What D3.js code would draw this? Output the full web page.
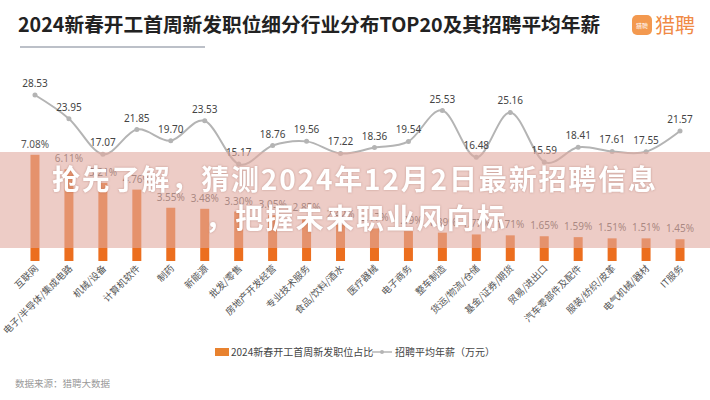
<!DOCTYPE html>
<html><head><meta charset="utf-8">
<script src="https://cdn.jsdelivr.net/npm/d3@7/dist/d3.min.js"></script>
<style>
html,body{margin:0;padding:0;background:#fff;}
svg{display:block;font-family:"Noto Sans CJK SC","Noto Sans",sans-serif;}
</style></head><body>
<svg id="c" width="710" height="400"></svg>
<script>
const categories = ["互联网","电子/半导体/集成电路","机械/设备","计算机软件","制药","新能源","批发/零售","房地产开发经营","专业技术服务","食品/饮料/酒水","医疗器械","电子商务","整车制造","货运/物流/仓储","基金/证券/期货","贸易/进出口","汽车零部件及配件","服装/纺织/皮革","电气机械/器材","IT服务"];
const shareValues = [7.08,6.11,5.21,4.76,3.55,3.48,3.30,3.05,2.85,2.42,2.17,1.99,1.89,1.77,1.71,1.65,1.59,1.51,1.51,1.45];
const salaryValues = [28.53,23.95,17.07,21.85,19.70,23.53,15.17,18.76,19.56,17.22,18.36,19.54,25.53,16.48,25.16,15.59,18.41,17.61,17.55,21.57];
const titleText = "2024新春开工首周新发职位细分行业分布TOP20及其招聘平均年薪";
const legendLabels = ["2024新春开工首周新发职位占比","招聘平均年薪（万元）"];
const sourceText = "数据来源：猎聘大数据";
const overlayLines = ["抢先了解，猜测2024年12月2日最新招聘信息","，把握未来职业风向标"];

const svg = d3.select("#c");
const x = d3.scaleBand().domain(categories).range([18,697]);
const cx = d => x(d) + x.bandwidth()/2;
const yBar = d3.scaleLinear().domain([0,8]).range([261,141]);
const yLine = d3.scaleLinear().domain([0,30]).range([242.5,87.4]);

// title
svg.append("text").attr("x",18).attr("y",32).attr("font-size",19.7).attr("font-weight","bold")
  .attr("fill","#222").text(titleText);
svg.append("line").attr("x1",20).attr("x2",205).attr("y1",47).attr("y2",47)
  .attr("stroke","#bcc0c8").attr("stroke-width",2);
// logo
svg.append("rect").attr("x",632).attr("y",15).attr("width",20).attr("height",20).attr("rx",5).attr("fill","#f3994f");
svg.append("text").attr("x",642).attr("y",28).attr("text-anchor","middle").attr("font-size",6).attr("fill","#fff").text("猎聘");
svg.append("text").attr("x",655).attr("y",33).attr("font-size",20).attr("fill","#f08a45").text("猎聘");

// bars
const bw = 9;
svg.append("g").selectAll("rect").data(shareValues).join("rect")
  .attr("x",(d,i)=>cx(categories[i])-bw/2).attr("width",bw)
  .attr("y",d=>yBar(d)).attr("height",d=>yBar(0)-yBar(d)).attr("fill","#ec6e1e");
svg.append("g").selectAll("text").data(shareValues).join("text")
  .attr("x",(d,i)=>cx(categories[i])).attr("y",d=>yBar(d)-7)
  .attr("text-anchor","middle").attr("font-size",10).attr("fill","#555")
  .attr("font-family","'Noto Sans',sans-serif").text(d=>d.toFixed(2)+"%");

// line
const pts = salaryValues.map((v,i)=>[cx(categories[i]), yLine(v)]);
svg.append("path").attr("d",d3.line().curve(d3.curveCardinal.tension(0))(pts))
  .attr("fill","none").attr("stroke","#b4b4b4").attr("stroke-width",2);
svg.append("g").selectAll("circle").data(pts).join("circle")
  .attr("cx",d=>d[0]).attr("cy",d=>d[1]).attr("r",2.5).attr("fill","#b4b4b4");
svg.append("g").selectAll("text").data(salaryValues).join("text")
  .attr("x",(d,i)=>cx(categories[i])).attr("y",d=>yLine(d)-8)
  .attr("text-anchor","middle").attr("font-size",10).attr("fill","#444")
  .attr("font-family","'Noto Sans',sans-serif").text(d=>d.toFixed(2));

// x labels
svg.append("g").selectAll("text").data(categories).join("text")
  .attr("transform",d=>`translate(${cx(d)+4},269) rotate(-45)`)
  .attr("text-anchor","end").attr("font-size",9.5).attr("fill","#555").text(d=>d);

// legend
svg.append("rect").attr("x",215).attr("y",348).attr("width",14).attr("height",8).attr("fill","#e8822f");
svg.append("text").attr("x",231).attr("y",356).attr("font-size",10).attr("fill","#444").text(legendLabels[0]);
svg.append("line").attr("x1",372).attr("x2",392).attr("y1",352).attr("y2",352).attr("stroke","#b4b4b4").attr("stroke-width",1.5);
svg.append("circle").attr("cx",382).attr("cy",352).attr("r",2).attr("fill","#b4b4b4");
svg.append("text").attr("x",395).attr("y",356).attr("font-size",10).attr("fill","#444").text(legendLabels[1]);
svg.append("text").attr("x",15).attr("y",387).attr("font-size",9.5).attr("fill","#999").text(sourceText);

// overlay band
svg.append("rect").attr("x",0).attr("y",152).attr("width",710).attr("height",96).attr("fill","rgba(225,170,160,0.6)");
const ov = svg.append("g").attr("font-size",28).attr("font-weight","bold").attr("fill","#fff")
  .style("filter","drop-shadow(0 0 1px rgba(120,60,50,0.35))");
ov.append("text").attr("x",52).attr("y",190).attr("textLength",604).attr("lengthAdjust","spacing").text(overlayLines[0]);
ov.append("text").attr("x",205).attr("y",229).attr("textLength",300).attr("lengthAdjust","spacing").text(overlayLines[1]);
</script>
</body></html>
